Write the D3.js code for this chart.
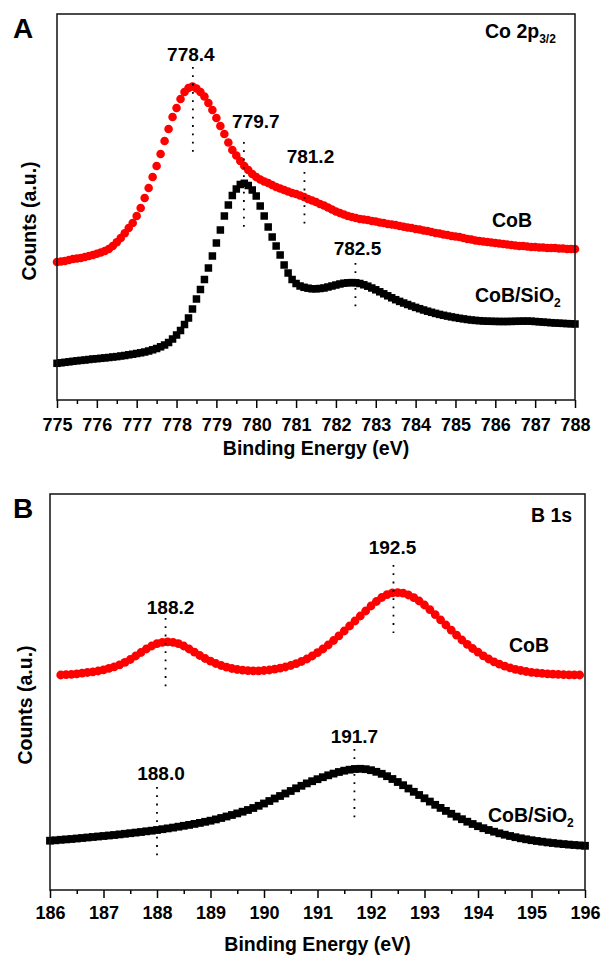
<!DOCTYPE html>
<html>
<head>
<meta charset="utf-8">
<title>XPS Co 2p and B 1s</title>
<script src="https://d3js.org/d3.v7.min.js"></script>
<style>
body { margin: 0; background: #fff; }
svg text { font-family: "Liberation Sans", Arial, sans-serif; font-weight: bold; fill: #000; }
.tick line { stroke: #000; stroke-width: 1.5; }
</style>
</head>
<body>
<div id="chart"></div>
<script>

// ---- panel A : Co 2p3/2, 0.1 eV step from 775.0 eV ----
var startA = 775, stepA = 0.1;
var cobA = [
 138,138.5,139,140,141,141.5,142,143,144,145,
 146.2,147.5,149,151,154,157.8,162,166.7,172,177,
 184,192,202,212,223,234,246,259,271,283,
 292,301,308,312,313.5,311.5,308,303.5,297,290,
 282,274,266,257.5,250,244.5,239,234,230,226,
 223,220.5,218.5,217,215,213,211.5,210,208.5,207,
 206,204.5,203,201,199.5,198,196,194.5,192.5,190.5,
 188.5,187,185.5,184,183,182,181,180.5,180,179,
 178.5,177.5,177,176,175.5,175,174,173.3,172.5,172,
 171,170.5,169.5,169,168,167,166.5,165.5,165,164,
 163.5,163,162,161,160.5,159.5,159,158.5,158,157.5,
 157,156.5,156,155.5,155,154.5,154,154,153.5,153,
 153,152.5,152.5,152,152,152,151.5,151.5,151,151,
 151];
var cobSiA = [
 36.7,37.2,37.7,38.2,38.7,39.2,39.6,40,40.5,41,
 41.3,41.7,42.1,42.5,43,43.4,44,44.5,45.2,45.8,
 46.5,47.2,48,49,50.2,51.5,53.2,55,57.5,61,
 65,69.5,75.5,82,91,101,110.5,120.5,132,144,
 157,170,184,195,204.5,211,215.5,216.7,214.5,210,
 204,194,184,173,163,154,145,135,127,120.5,
 116.5,114,112.7,111.8,111.2,111.2,111.5,112,113,114,
 115,116,116.8,117.2,117.4,117.2,116.5,115.2,113.8,112,
 110.2,108.2,106.2,104.2,102.2,100.3,98.6,97,95.5,94,
 92.6,91.3,90,88.8,87.7,86.6,85.6,84.7,83.9,83.1,
 82.4,81.7,81.1,80.5,80,79.6,79.3,79,78.8,78.7,
 78.6,78.5,78.5,78.5,78.6,78.7,78.8,78.9,78.9,78.8,
 78.5,78.2,77.9,77.6,77.3,77,76.8,76.6,76.4,76.2,
 76];
var ticksA = [775,776,777,778,779,780,781,782,783,784,785,786,787,788];
var peaksA = [778.41, 779.69, 781.21, 782.49];
var peakLabelsA = ["778.4", "779.7", "781.2", "782.5"];
var peakTopA = [333, 258, 228, 137];
var peakBottomA = [247, 173, 175, 93];
var peakTextA = [339, 272, 237, 145];

// ---- panel B : B 1s, 0.1 eV step ----
var startBred = 186.2, startBblack = 186.0, stepB = 0.1;
var cobB = [
 215,215.3,215.7,216.2,216.8,217.5,218.2,219,
 220.2,221.6,223.2,225.2,227.6,230.5,234,237.5,241,244,
 246.3,247.7,248.2,247.7,246.3,244,241,237.8,234.5,231.5,
 228.8,226.5,224.5,222.8,221.5,220.5,219.8,219.4,219.2,219.2,
 219.5,220,220.8,221.8,223,224.5,226.3,228.5,231,234,
 237.3,241,245,249.5,254.2,259,264,269,274,279,
 284,288.5,292.5,295.3,297.2,297.4,296.8,295,292.4,289,
 285,280.4,275.4,270.2,265,259.8,254.8,250,245.6,241.5,
 237.8,234.2,231,228.2,225.8,223.8,222.1,220.7,219.5,218.5,
 217.7,217.1,216.6,216.2,215.9,215.6,215.4,215.2,215.1,215];
var cobSiB = [
 49.3,49.7,50.2,50.6,51,51.5,52,52.5,53,53.5,
 54,54.5,55,55.6,56.2,56.8,57.4,58,58.7,59.3,
 60,60.8,61.6,62.4,63.3,64.2,65.1,66.1,67.1,68.2,
 69.3,70.6,72,73.5,75,76.6,78.3,80,82,84.2,
 86.5,89,91.5,94,96.5,99,101.7,104.2,106.6,108.8,
 110.8,112.8,114.7,116.4,118,119.3,120.3,121,121.2,120.8,
 119.8,118.2,116.2,113.8,111,108,104.8,101.5,98.2,95,
 91.7,88.4,85.2,82.1,79.1,76.2,73.4,70.8,68.3,66,
 63.8,61.8,60,58.3,56.7,55.3,54,52.8,51.7,50.7,
 49.8,49,48.3,47.6,47,46.4,45.9,45.4,45,44.6,
 44.2];
var ticksB = [186,187,188,189,190,191,192,193,194,195,196];
var peaksB = [188.16, 192.42, 188.0, 191.69];
var peakLabelsB = ["188.2", "192.5", "188.0", "191.7"];
var peakTopB = [272, 325, 103, 141];
var peakBottomB = [203, 257, 33, 72];
var peakTextB = [276, 336, 110, 147];

function series(start, step, vals) {
  return vals.map(function(v, i) { return {e: +(start + i * step).toFixed(2), c: v}; });
}

var svg = d3.select("#chart").append("svg")
    .attr("width", 601)
    .attr("height", 957);

function drawPanel(p) {
  var x = d3.scaleLinear().domain(p.xDomain).range([p.left, p.right]);
  var y = d3.scaleLinear().domain([0, p.yMax]).range([p.bottom, p.top]);
  var g = svg.append("g");

  // red circles (CoB)
  g.selectAll(".cob")
      .data(p.red)
    .enter().append("circle")
      .attr("cx", function(d) { return x(d.e); })
      .attr("cy", function(d) { return y(d.c); })
      .attr("r", p.r)
      .attr("fill", "#ff0000");

  // black squares (CoB/SiO2)
  g.selectAll(".cobsi")
      .data(p.black)
    .enter().append("rect")
      .attr("x", function(d) { return x(d.e) - p.sq / 2; })
      .attr("y", function(d) { return y(d.c) - p.sq / 2; })
      .attr("width", p.sq)
      .attr("height", p.sq)
      .attr("fill", "#000");

  // dotted peak markers
  p.peaks.forEach(function(e, i) {
    g.append("line")
      .attr("x1", x(e)).attr("x2", x(e))
      .attr("y1", y(p.peakTop[i])).attr("y2", y(p.peakBottom[i]))
      .attr("stroke", "#000")
      .attr("stroke-width", 1.8)
      .attr("stroke-dasharray", "1.8,6.5");
    g.append("text")
      .attr("x", x(e) + p.labelDx[i])
      .attr("y", y(p.peakText[i]))
      .attr("text-anchor", "middle")
      .style("font-size", "19px")
      .text(p.peakLabels[i]);
  });

  // bottom axis, major + minor ticks
  var ax = g.append("g")
      .attr("transform", "translate(0," + p.bottom + ")")
      .call(d3.axisBottom(x).tickValues(p.ticks).tickSize(8).tickPadding(p.pad).tickFormat(d3.format("d")));
  ax.select(".domain").remove();
  ax.selectAll("text").style("font-size", "18px");

  var minor = d3.pairs(p.ticks).map(function(t) { return (t[0] + t[1]) / 2; });
  var axm = g.append("g")
      .attr("transform", "translate(0," + p.bottom + ")")
      .call(d3.axisBottom(x).tickValues(minor).tickSize(4).tickFormat(""));
  axm.select(".domain").remove();

  // frame
  g.append("rect")
      .attr("x", p.left).attr("y", p.top)
      .attr("width", p.right - p.left).attr("height", p.bottom - p.top)
      .attr("fill", "none")
      .attr("stroke", "#111")
      .attr("stroke-width", 1.5);

  g.append("text")
      .attr("x", (p.left + p.right) / 2)
      .attr("y", p.titleY)
      .attr("text-anchor", "middle")
      .style("font-size", "19.5px")
      .text("Binding Energy (eV)");

  g.append("text")
      .attr("transform", "translate(" + p.yTitleX + "," + p.yTitleY + ") rotate(-90)")
      .attr("text-anchor", "middle")
      .style("font-size", "19.5px")
      .text("Counts (a.u.)");

  g.append("text")
      .attr("x", 13).attr("y", p.letterY)
      .style("font-size", "28px")
      .text(p.letter);

  return g;
}

var gA = drawPanel({
  left: 57, right: 575, top: 14, bottom: 400,
  xDomain: [775, 788], yMax: 386,
  red: series(startA, stepA, cobA), black: series(startA, stepA, cobSiA),
  r: 4.3, sq: 7.5,
  ticks: ticksA, pad: 10,
  peaks: peaksA, peakLabels: peakLabelsA, peakTop: peakTopA, peakBottom: peakBottomA, peakText: peakTextA,
  labelDx: [-2, 12, 6, 2],
  titleY: 455, yTitleX: 36, yTitleY: 221,
  letter: "A", letterY: 38
});

var coA = gA.append("text").attr("x", 485).attr("y", 38).style("font-size", "19.5px");
coA.append("tspan").text("Co 2p");
coA.append("tspan").attr("dy", 5).style("font-size", "12px").text("3/2");
gA.append("text").attr("x", 492).attr("y", 227).style("font-size", "19.5px").text("CoB");
var siA = gA.append("text").attr("x", 475).attr("y", 302).style("font-size", "19.5px");
siA.append("tspan").text("CoB/SiO");
siA.append("tspan").attr("dy", 5).style("font-size", "12px").text("2");

var gB = drawPanel({
  left: 50, right: 585, top: 494, bottom: 890,
  xDomain: [186, 196], yMax: 396,
  red: series(startBred, stepB, cobB), black: series(startBblack, stepB, cobSiB),
  r: 4.4, sq: 7.8,
  ticks: ticksB, pad: 8,
  peaks: peaksB, peakLabels: peakLabelsB, peakTop: peakTopB, peakBottom: peakBottomB, peakText: peakTextB,
  labelDx: [5, -1, 4, 0],
  titleY: 951, yTitleX: 32, yTitleY: 705,
  letter: "B", letterY: 518
});

gB.append("text").attr("x", 531).attr("y", 522).style("font-size", "19.5px").text("B 1s");
gB.append("text").attr("x", 509).attr("y", 652).style("font-size", "19.5px").text("CoB");
var siB = gB.append("text").attr("x", 488).attr("y", 822).style("font-size", "19.5px");
siB.append("tspan").text("CoB/SiO");
siB.append("tspan").attr("dy", 5).style("font-size", "12px").text("2");

</script>
</body>
</html>
